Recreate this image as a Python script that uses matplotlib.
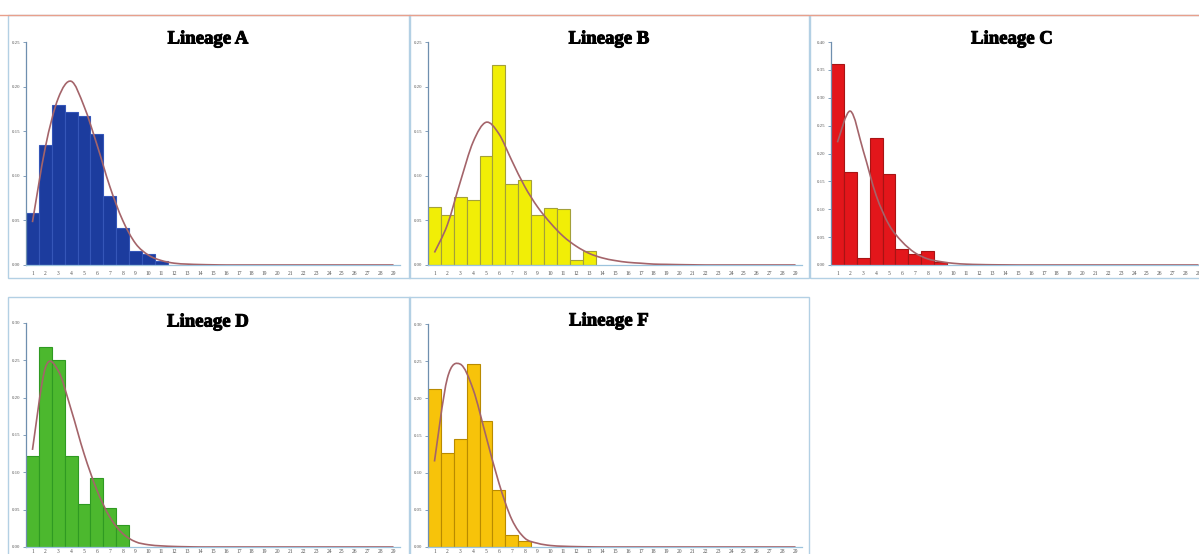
#!/usr/bin/env python3
"""Histograms of five lineages with fitted distribution curves"""

import numpy as np
import matplotlib
matplotlib.use("Agg")
import matplotlib.pyplot as plt
import matplotlib.patheffects as pe
from matplotlib.path import Path
from matplotlib.patches import PathPatch, Rectangle

# categories on the x axis
classes = list(range(1, 30))

# bar heights (relative frequency), lineage by lineage
bars_a = [0.058, 0.135, 0.179, 0.172, 0.167, 0.147, 0.077, 0.041, 0.016, 0.012, 0.004]
bars_b = [0.065, 0.056, 0.076, 0.073, 0.122, 0.224, 0.091, 0.095, 0.056, 0.064, 0.063,
          0.006, 0.016]
bars_c = [0.361, 0.167, 0.012, 0.227, 0.163, 0.029, 0.020, 0.025, 0.006]
bars_d = [0.122, 0.268, 0.251, 0.122, 0.058, 0.093, 0.052, 0.029]
bars_f = [0.213, 0.127, 0.145, 0.246, 0.169, 0.077, 0.016, 0.008]

# fitted curves read at each class
fit_a = [0.048, 0.132, 0.187, 0.206, 0.178, 0.135, 0.088, 0.050, 0.024, 0.011,
         0.005, 0.002, 0.001, 0.0005, 0.0002, 0, 0, 0, 0, 0, 0, 0, 0, 0, 0, 0, 0, 0, 0]
fit_b = [0.014, 0.045, 0.093, 0.138, 0.160, 0.147, 0.117, 0.088, 0.065, 0.047,
         0.032, 0.021, 0.013, 0.008, 0.005, 0.003, 0.002, 0.001, 0.0007, 0.0004,
         0.0002, 0, 0, 0, 0, 0, 0, 0, 0]
fit_c = [0.22, 0.276, 0.205, 0.125, 0.072, 0.042, 0.022, 0.011, 0.006, 0.003,
         0.0015, 0.0008, 0.0004, 0.0002, 0, 0, 0, 0, 0, 0, 0, 0, 0, 0, 0, 0, 0, 0, 0]
fit_d = [0.130, 0.240, 0.236, 0.184, 0.125, 0.076, 0.040, 0.018, 0.007, 0.003,
         0.0015, 0.0007, 0.0003, 0, 0, 0, 0, 0, 0, 0, 0, 0, 0, 0, 0, 0, 0, 0, 0]
fit_f = [0.115, 0.227, 0.246, 0.212, 0.149, 0.086, 0.037, 0.012, 0.005, 0.002,
         0.001, 0.0005, 0.0002, 0, 0, 0, 0, 0, 0, 0, 0, 0, 0, 0, 0, 0, 0, 0, 0]

titles = ["Lineage A", "Lineage B", "Lineage C", "Lineage D", "Lineage F"]
y_max = [0.25, 0.25, 0.40, 0.30, 0.30]

W, H = 1199, 554


def smooth_path(xs, ys):
    """Catmull-Rom curve through the points, like a smoothed spreadsheet line"""
    pts = np.column_stack([xs, ys]).astype(float)
    verts = [pts[0]]
    codes = [Path.MOVETO]
    n = len(pts)
    for i in range(n - 1):
        p0 = pts[max(i - 1, 0)]
        p1 = pts[i]
        p2 = pts[i + 1]
        p3 = pts[min(i + 2, n - 1)]
        verts += [p1 + (p2 - p0) / 6, p2 - (p3 - p1) / 6, p2]
        codes += [Path.CURVE4] * 3
    return Path(verts, codes)


def px_axes(fig, x0, x1, ytop, yzero):
    return fig.add_axes([x0 / W, 1 - yzero / H, (x1 - x0) / W, (yzero - ytop) / H])


def panel(fig, box, frame, title, title_xy, bars, fit, ymax, color, edge, xpad=4):
    ax = px_axes(fig, *box)
    ax.bar(classes[:len(bars)], bars, width=1.0, color=color, edgecolor=edge,
           linewidth=0.8, zorder=2)
    ax.add_patch(PathPatch(smooth_path(classes, fit), fill=False,
                           edgecolor="#a4646a", linewidth=1.2, zorder=3))
    ax.set_xlim(0.5, 29.5)
    ax.set_ylim(0, ymax)
    ax.set_xticks(classes)
    ax.set_xticklabels([str(c) for c in classes])
    ax.set_yticks(np.arange(0, ymax + 0.001, 0.05))
    ax.yaxis.set_major_formatter(matplotlib.ticker.FormatStrFormatter("%.2f"))
    ax.tick_params(axis="x", length=0, pad=xpad, labelsize=4, labelcolor="#555555")
    ax.tick_params(axis="y", length=2, width=0.6, color="#6f8faf", pad=2,
                   labelsize=3.5, labelcolor="#555555")
    for s in ["top", "right"]:
        ax.spines[s].set_visible(False)
    ax.spines["left"].set_color("#6f8faf")
    ax.spines["left"].set_linewidth(0.9)
    ax.spines["bottom"].set_color("#9cc3dd")
    ax.spines["bottom"].set_linewidth(0.9)
    ax.patch.set_alpha(0)

    fx0, fy0, fx1, fy1 = frame
    fig.patches.append(Rectangle((fx0 / W, 1 - fy1 / H), (fx1 - fx0) / W,
                                 (fy1 - fy0) / H, transform=fig.transFigure,
                                 fill=False, edgecolor="#b3d0e4", linewidth=1.0,
                                 zorder=0))
    fig.text(title_xy[0] / W, 1 - title_xy[1] / H, title, ha="center", va="center",
             fontsize=13.5, fontweight="bold", family="Liberation Serif",
             path_effects=[pe.Stroke(linewidth=0.7, foreground="black"), pe.Normal()])


plt.rcParams["font.family"] = "Liberation Serif"
fig = plt.figure(figsize=(W / 100, H / 100), dpi=100)

panel(fig, (26, 400, 42, 265), (8, 15, 410, 278), titles[0], (208, 39),
      bars_a, fit_a, y_max[0], "#1c3c9e", "#3556b8")
panel(fig, (428, 802, 42, 265), (409, 15, 809, 278), titles[1], (609, 39),
      bars_b, fit_b, y_max[1], "#f1ee06", "#a3a03a")
panel(fig, (831, 1205, 42, 265), (810, 15, 1210, 278), titles[2], (1012, 39),
      bars_c, fit_c, y_max[2], "#e3161b", "#a81414")
panel(fig, (26, 400, 323, 547), (8, 297, 410, 570), titles[3], (208, 322),
      bars_d, fit_d, y_max[3], "#4cb82e", "#2f9a22", xpad=1.5)
panel(fig, (428, 802, 324, 547), (409, 297, 809, 570), titles[4], (609, 321),
      bars_f, fit_f, y_max[4], "#f7c30a", "#b98b00", xpad=1.5)

# salmon rule along the top of the first row
fig.add_artist(plt.Line2D([0, 1], [1 - 15 / H, 1 - 15 / H], transform=fig.transFigure,
                          color="#e8a08c", linewidth=1.0))

fig.savefig("out.png", dpi=100)
